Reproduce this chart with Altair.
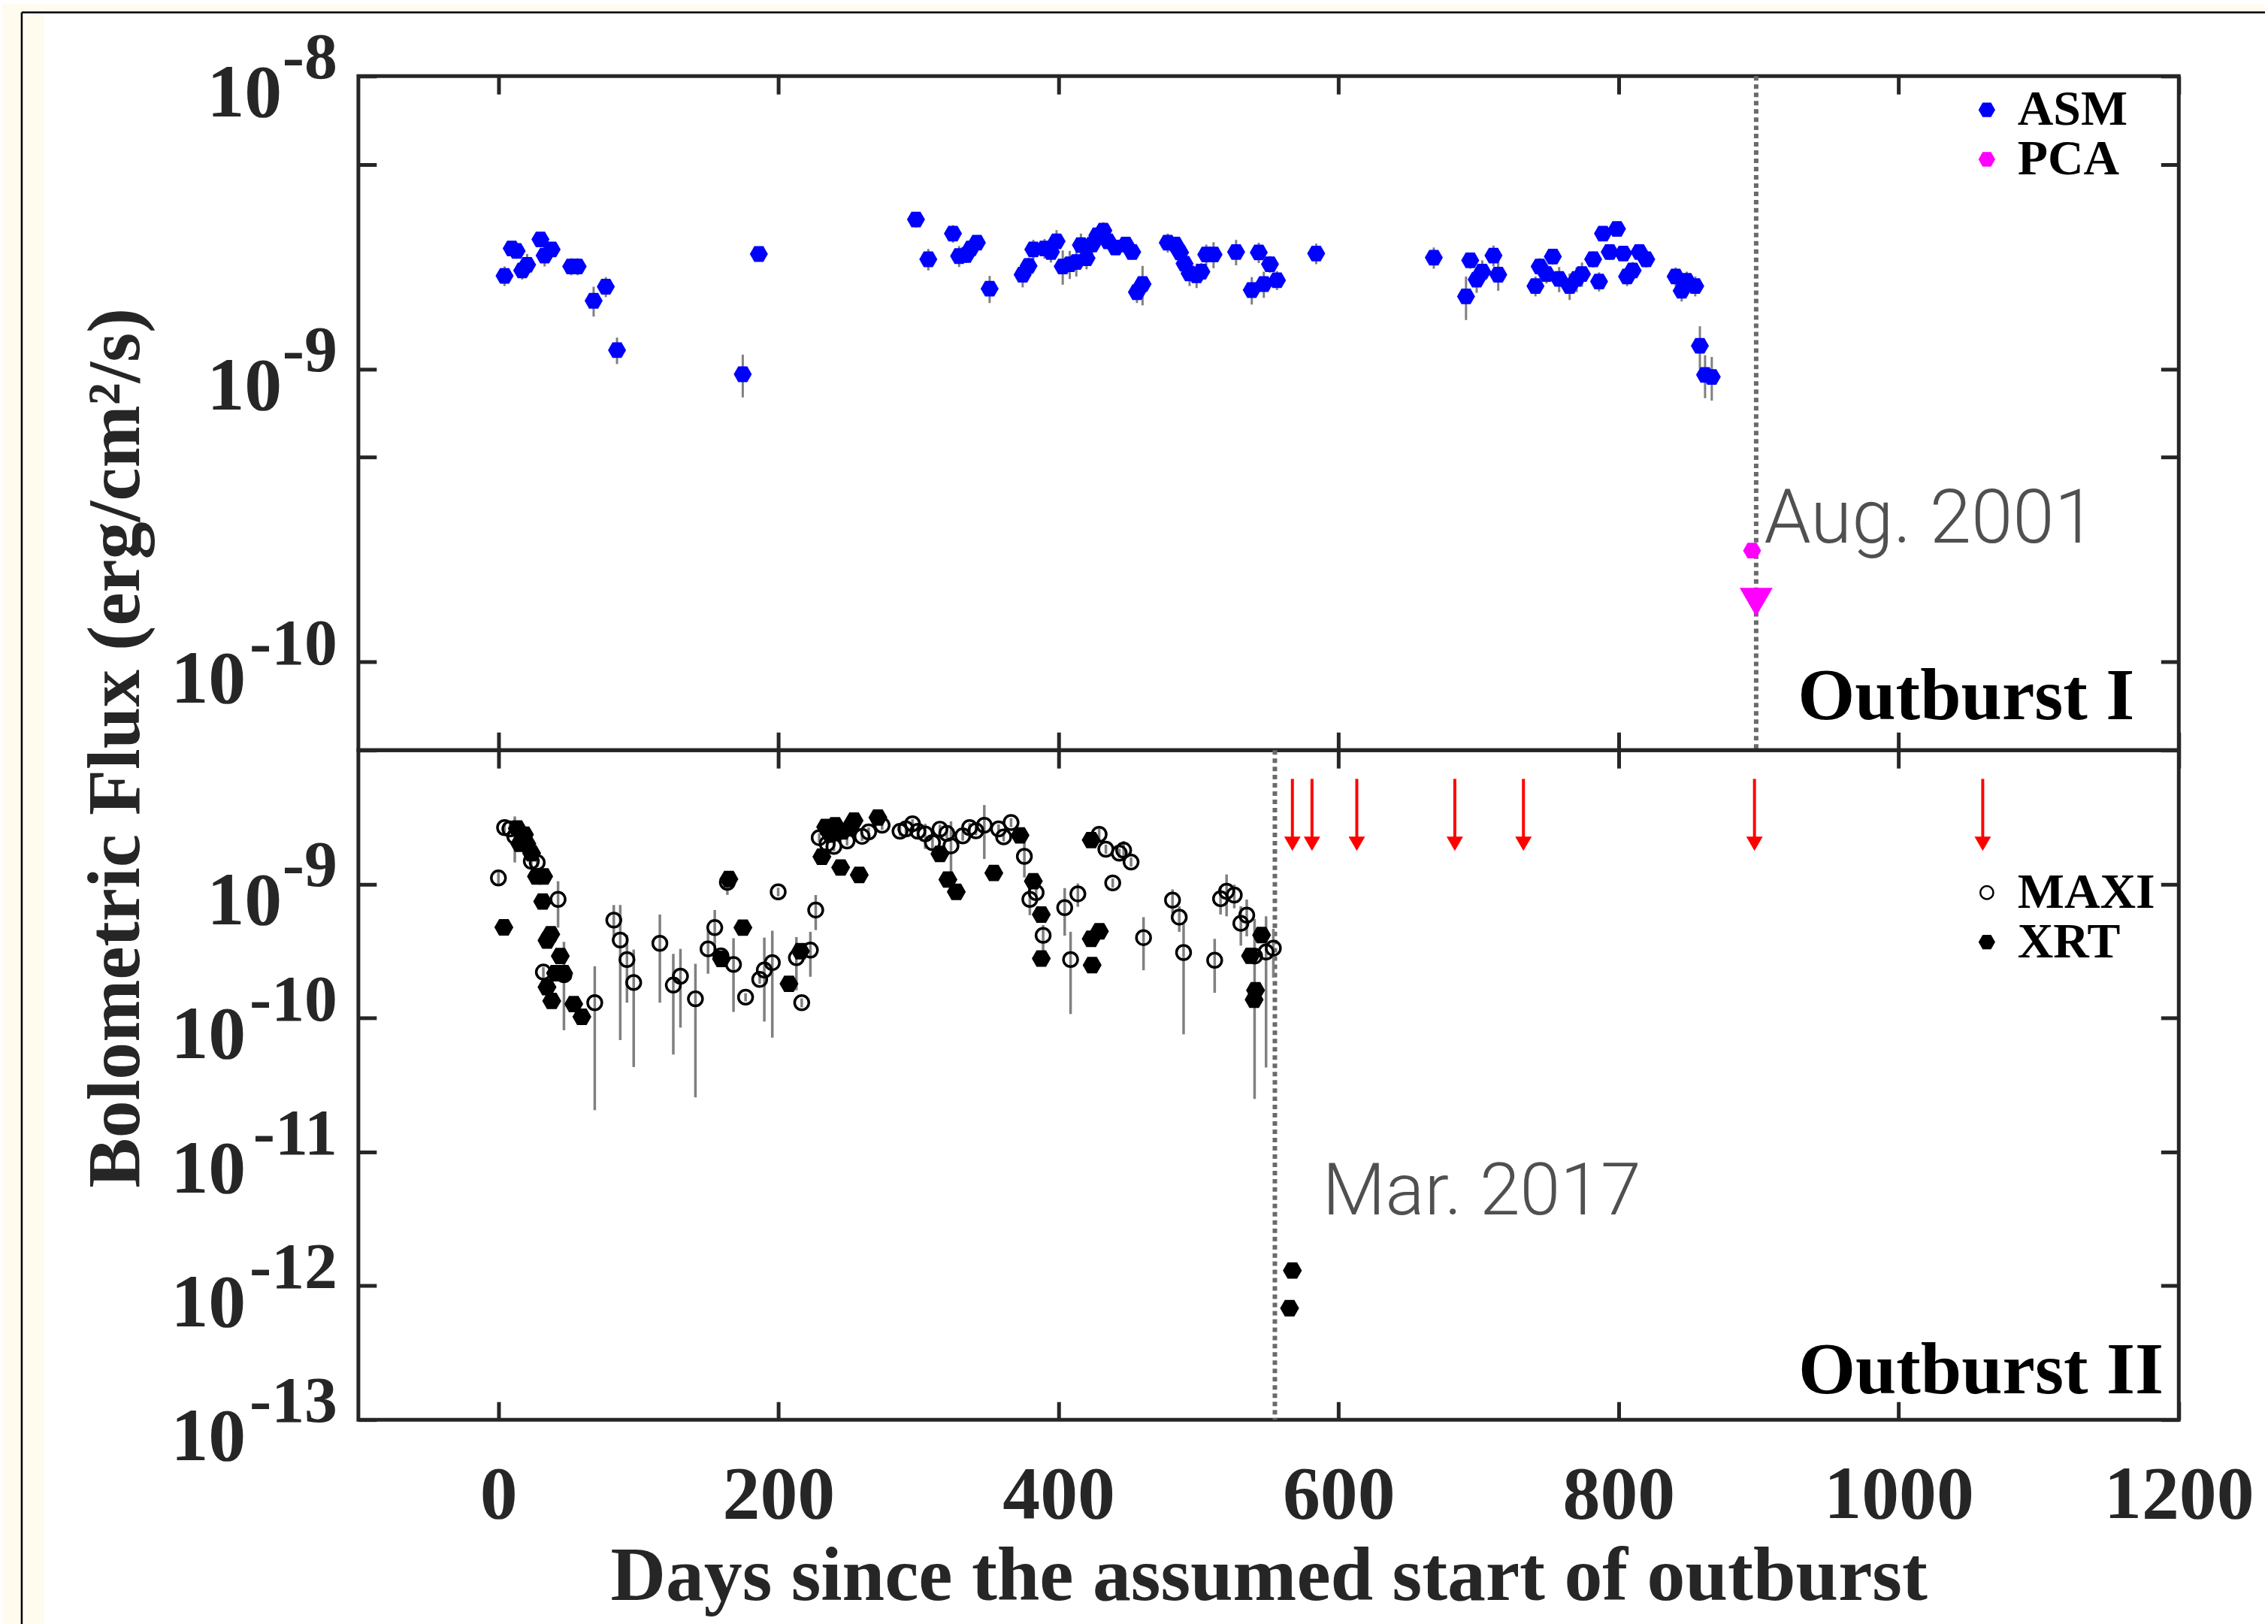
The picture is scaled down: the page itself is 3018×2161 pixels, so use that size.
import altair as alt
import pandas as pd

# ---------------- style constants ----------------
SERIF = "Liberation Serif"
LIGHT = "Roboto"
AX = "#262626"
CREAM = "#fffcef"
GREY_ERR = "#808080"
HEX = "M-1,0L-0.5,-0.866L0.5,-0.866L1,0L0.5,0.866L-0.5,0.866Z"
HEXB = "M-1.12,0L-0.56,-0.97L0.56,-0.97L1.12,0L0.56,0.97L-0.56,0.97Z"
W, H_TOP, H_BOT, TICK = 2428, 899, 893, 24

# ---------------- data ----------------
# Outburst I : RXTE/ASM (flux in 1e-9 erg/cm2/s)
asm_day = [4.4, 9.5, 13, 17, 20.5, 30, 33, 38, 52, 56.6, 68, 76.7, 84.7, 174.5, 186,
           298.2, 307, 324.6, 329, 334, 337.4, 341.7, 350.8, 374.4, 378.6, 382, 390, 394.6,
           398.6, 403, 408, 412.7, 416, 420, 424, 427.7, 432, 435.4, 440.7, 448, 452.6, 456,
           460, 478, 483.4, 486.8, 490, 493.6, 498.6, 502, 505.5, 510.7, 526.8, 538, 543,
           546.6, 551, 556, 584, 668, 691, 694, 698.6, 702.6, 710.6, 714, 740.6, 743.6, 748.5,
           753, 757.5, 765, 770, 773.8, 781.8, 786, 788.8, 793.6, 798.8, 803.3, 806, 810,
           814.8, 819.7, 840.7, 845, 848.6, 854.7, 858, 861.7, 866.5]
asm_flux = [2.08, 2.58, 2.53, 2.17, 2.27, 2.77, 2.44, 2.56, 2.24, 2.24,
            1.71, 1.91, 1.16, 0.96, 2.47, 3.24, 2.37, 2.90, 2.43, 2.45,
            2.58, 2.70, 1.88, 2.10, 2.25, 2.56, 2.58, 2.51, 2.73, 2.24,
            2.28, 2.32, 2.65, 2.39, 2.66, 2.86, 2.97, 2.73, 2.60, 2.66,
            2.51, 1.83, 1.95, 2.70, 2.66, 2.50, 2.29, 2.12, 2.09, 2.15,
            2.46, 2.46, 2.51, 1.86, 2.50, 1.95, 2.28, 2.01, 2.48, 2.40,
            1.77, 2.35, 2.02, 2.15, 2.44, 2.10, 1.92, 2.24, 2.11, 2.42,
            2.03, 1.92, 2.03, 2.11, 2.37, 1.99, 2.90, 2.51, 3.01, 2.48,
            2.07, 2.17, 2.51, 2.37, 2.07, 1.85, 2.00, 1.92, 1.20, 0.955, 0.94]
asm_err = [0.16, 0.15, 0.15, 0.15, 0.20, 0.15, 0.20, 0.15, 0.15, 0.15,
           0.20, 0.15, 0.12, 0.16, 0.12, 0.20, 0.20, 0.20, 0.20, 0.15,
           0.15, 0.15, 0.20, 0.20, 0.15, 0.20, 0.20, 0.20, 0.25, 0.30,
           0.25, 0.25, 0.25, 0.20, 0.20, 0.20, 0.20, 0.15, 0.15, 0.15,
           0.15, 0.15, 0.30, 0.20, 0.15, 0.15, 0.15, 0.20, 0.20, 0.15,
           0.20, 0.25, 0.25, 0.20, 0.20, 0.20, 0.15, 0.15, 0.20, 0.20,
           0.30, 0.15, 0.20, 0.20, 0.20, 0.25, 0.15, 0.15, 0.15, 0.15,
           0.20, 0.20, 0.20, 0.20, 0.15, 0.15, 0.15, 0.15, 0.15, 0.15,
           0.15, 0.15, 0.15, 0.15, 0.15, 0.15, 0.15, 0.15, 0.20, 0.16, 0.16]

pca_day = [895.3]
pca_flux = [2.40e-10]
pca_ul_day = [898.2]
pca_ul_flux = [1.60e-10]

# Outburst II : MAXI (flux, lower, upper in 1e-10 erg/cm2/s)
maxi_day = [0, 4.4, 8.2, 11.7, 23.5, 27.7, 32.1, 42.6, 46.8, 68.8,
            82.4, 87.0, 91.8, 96.6, 115.3, 124.9, 130.0, 140.7, 149.7, 154.5,
            158.9, 163.5, 167.9, 176.5, 186.6, 189.9, 195.6, 199.8, 212.8, 216.6,
            222.8, 226.6, 229.1, 234.8, 239.6, 249.0, 259.7, 264.4, 274.0, 286.8,
            291.0, 295.7, 299.5, 304.8, 310.0, 315.3, 320.2, 323.2, 331.6, 336.5,
            341.0, 347.0, 357.2, 360.8, 366.1, 375.6, 379.5, 384.0, 389.0, 404.4,
            408.6, 413.8, 429.0, 433.8, 438.7, 443.4, 446.5, 451.8, 460.7, 481.4,
            486.2, 489.3, 511.5, 515.7, 520.0, 525.5, 530.2, 534.4, 540.0, 548.2, 553.4]
maxi_flux = [11.1, 26.4, 25.8, 22.7, 14.8, 14.5, 2.2, 7.69, 2.1, 1.30,
             5.38, 3.82, 2.73, 1.84, 3.61, 1.76, 2.05, 1.39, 3.28, 4.73,
             2.91, 10.3, 2.51, 1.43, 1.94, 2.28, 2.59, 8.75, 2.82, 1.30,
             3.21, 6.40, 22.2, 20.0, 19.1, 21.0, 22.7, 24.5, 27.5, 24.8,
             25.8, 28.2, 24.8, 23.7, 20.4, 25.7, 23.9, 19.3, 22.9, 26.4,
             25.0, 27.5, 25.8, 22.5, 28.8, 16.1, 7.69, 8.63, 4.14, 6.67,
             2.73, 8.45, 23.5, 18.2, 10.2, 17.0, 17.9, 14.6, 3.98, 7.59,
             5.66, 3.08, 2.70, 7.77, 8.83, 8.28, 5.09, 5.86, 2.9, 3.11, 3.32]
maxi_lo = [10.0, 24.5, 24.0, 14.5, 13.5, 13.3, 2.0, 4.73, 0.81, 0.205,
           4.07, 0.684, 1.30, 0.43, 1.30, 0.533, 0.847, 0.255, 2.14, 3.15,
           2.7, 8.3, 1.11, 1.33, 1.8, 0.94, 0.714, 8.1, 1.61, 1.2,
           2.03, 4.53, 20.5, 18.5, 17.6, 19.4, 21.0, 22.6, 25.4, 22.9,
           23.8, 26.0, 22.0, 18.3, 18.0, 23.7, 22.0, 10.9, 21.1, 24.4,
           23.1, 15.4, 23.8, 20.8, 26.6, 11.2, 5.86, 7.9, 3.15, 4.12,
           1.07, 6.76, 21.0, 16.8, 9.4, 15.7, 15.0, 13.5, 2.27, 6.04,
           4.40, 0.755, 1.54, 5.92, 5.74, 6.59, 3.47, 4.07, 0.249, 0.427, 2.0]
maxi_hi = [12.2, 28.5, 27.8, 32.0, 16.2, 15.9, 2.4, 10.5, 3.7, 2.43,
           6.97, 6.97, 4.16, 3.24, 5.92, 3.01, 3.28, 2.54, 4.48, 6.40,
           3.1, 10.9, 3.94, 1.53, 2.1, 3.98, 4.48, 9.4, 4.02, 1.4,
           4.40, 8.28, 24.0, 21.6, 20.7, 22.7, 24.5, 26.5, 29.7, 26.8,
           27.9, 30.5, 27.5, 28.2, 23.0, 27.8, 25.9, 29.4, 24.8, 28.5,
           27.0, 38.9, 27.9, 24.3, 31.1, 20.4, 9.6, 9.4, 4.94, 9.33,
           4.40, 10.1, 26.0, 19.7, 11.0, 18.4, 21.0, 15.8, 5.66, 9.12,
           6.82, 5.05, 3.90, 9.6, 11.8, 9.9, 6.82, 7.66, 5.5, 5.74, 4.63]

# Outburst II : Swift/XRT (flux in 1e-10 erg/cm2/s)
xrt_day = [3.9, 13.5, 15.2, 18.6, 20.3, 23.7, 27.2, 32.3, 31.6, 37.4,
           34.7, 44.2, 46.6, 40.8, 34.7, 38.1, 53.8, 59.6, 159.3, 164.6,
           174.6, 207.5, 215.7, 231.0, 233.7, 237.1, 239.6, 240.5, 244.4, 245.7,
           250.7, 254.0, 257.7, 271.0, 315.3, 321.0, 327.0, 353.8, 372.5, 382.0,
           387.7, 387.7, 423.3, 423.3, 424.0, 429.2, 537.1, 539.7, 540.7, 545.0,
           565.0, 567.0]
xrt_flux = [4.75, 26.0, 20.0, 23.4, 20.0, 17.0, 11.4, 11.4, 7.41, 4.22,
            3.79, 2.90, 2.16, 2.16, 1.70, 1.34, 1.27, 1.02, 2.76, 10.9,
            4.73, 1.80, 3.15, 16.0, 26.7, 23.4, 26.4, 27.5, 13.3, 24.7,
            26.0, 29.8, 11.7, 31.4, 16.8, 10.8, 8.75, 12.1, 23.1, 10.5,
            5.92, 2.78, 21.3, 3.90, 2.48, 4.44, 2.91, 1.37, 1.61, 4.16,
            0.0068, 0.013]

# XRT upper limits (red arrows)
ul_day = [567, 581, 613, 683, 732, 897, 1060]
ul_from = [6.1e-9, 6.1e-9, 6.1e-9, 6.1e-9, 6.1e-9, 6.1e-9, 6.1e-9]
ul_to = [2.0e-9, 2.0e-9, 2.0e-9, 2.0e-9, 2.0e-9, 2.0e-9, 2.0e-9]

epoch_top = [898.2]   # Aug. 2001
epoch_bot = [554.5]   # Mar. 2017

x_ticks = [0, 200, 400, 600, 800, 1000, 1200]
y_ticks_top = [1e-10, 5e-10, 1e-9, 5e-9, 1e-8]
y_ticks_bot = [1e-13, 1e-12, 1e-11, 1e-10, 1e-9, 1e-8]
y_labels_top = [1e-8, 1e-9, 1e-10]
y_labels_bot = [1e-9, 1e-10, 1e-11, 1e-12, 1e-13]

ann_top = pd.DataFrame({"t": ["Aug. 2001"], "day": [903.9], "flux": [2.56e-10]})
lab_top = pd.DataFrame({"t": ["Outburst I"], "day": [1168.4], "flux": [6.37e-11]})
ann_bot = pd.DataFrame({"t": ["Mar. 2017"], "day": [588.5], "flux": [3.42e-12]})
lab_bot = pd.DataFrame({"t": ["Outburst II"], "day": [1189.2], "flux": [1.58e-13]})

# ---------------- tables ----------------
top_pts = pd.DataFrame({
    "day": asm_day + pca_day,
    "flux": [f * 1e-9 for f in asm_flux] + pca_flux,
    "inst": ["ASM"] * len(asm_day) + ["PCA"] * len(pca_day),
})
asm_eb = pd.DataFrame({
    "day": asm_day,
    "lo": [(f - e) * 1e-9 for f, e in zip(asm_flux, asm_err)],
    "hi": [(f + e) * 1e-9 for f, e in zip(asm_flux, asm_err)],
})
pca_ul = pd.DataFrame({"day": pca_ul_day, "flux": pca_ul_flux})
bot_pts = pd.DataFrame({
    "day": maxi_day + xrt_day,
    "flux": [f * 1e-10 for f in maxi_flux] + [f * 1e-10 for f in xrt_flux],
    "inst": ["MAXI"] * len(maxi_day) + ["XRT"] * len(xrt_day),
})
maxi_eb = pd.DataFrame({
    "day": maxi_day,
    "lo": [v * 1e-10 for v in maxi_lo],
    "hi": [v * 1e-10 for v in maxi_hi],
})
ul_df = pd.DataFrame({"day": ul_day, "y0": ul_from, "y1": ul_to})
one = pd.DataFrame({"k": [0]})

XS = alt.Scale(domain=[-100, 1200], nice=False, zero=False)
YT = alt.Scale(type="log", domain=[5e-11, 1e-8], nice=False)
YB = alt.Scale(type="log", domain=[1e-13, 1e-8], nice=False)


def tick_axis(orient, values):
    return alt.Axis(orient=orient, values=values, offset=-TICK, tickSize=TICK,
                    tickWidth=5, tickColor=AX, domain=False, grid=False,
                    labels=False, title=None)


def xq(field, axis=None):
    return alt.X(field, type="quantitative", scale=XS, axis=axis)


def tick_labels(vals, yscale):
    base = alt.Chart(pd.DataFrame({"v": vals})).transform_calculate(
        e="'-' + format(-log(datum.v)/LN10, '.0f')",
        n="length(format(-log(datum.v)/LN10, '.0f'))",
    )
    y = alt.Y("v:Q", scale=yscale, axis=None)
    ten1 = base.transform_filter("datum.n == 1").mark_text(
        text="10", align="right", baseline="alphabetic", dy=54, font=SERIF,
        fontWeight="bold", fontSize=100, color=AX).encode(x=alt.value(-102), y=y)
    ten2 = base.transform_filter("datum.n == 2").mark_text(
        text="10", align="right", baseline="alphabetic", dy=54, font=SERIF,
        fontWeight="bold", fontSize=100, color=AX).encode(x=alt.value(-150), y=y)
    ex = base.mark_text(align="right", baseline="alphabetic", dy=3, font=SERIF,
                        fontWeight="bold", fontSize=88, color=AX).encode(
        x=alt.value(-28), y=y, text="e:N")
    return [ten1, ten2, ex]


# ---------------- decoration (page frame) ----------------
deco = [
    alt.Chart(one).mark_rect(color=CREAM).encode(
        x=alt.value(-475), x2=alt.value(-419), y=alt.value(-96), y2=alt.value(2065)),
    alt.Chart(one).mark_rect(color=CREAM).encode(
        x=alt.value(-475), x2=alt.value(2543), y=alt.value(-96), y2=alt.value(-83)),
    alt.Chart(one).mark_rule(color="black", strokeWidth=2.5).encode(
        x=alt.value(-449), y=alt.value(-85), y2=alt.value(2065)),
    alt.Chart(one).mark_rule(color="black", strokeWidth=2.5).encode(
        x=alt.value(-449), x2=alt.value(2543), y=alt.value(-85)),
]

# ---------------- top panel ----------------
vline_top = alt.Chart(pd.DataFrame({"day": epoch_top})).mark_rule(
    color="#6a6a6a", strokeWidth=6, strokeDash=[6, 5]).encode(x=xq("day"))

asm_err_layer = alt.Chart(asm_eb).mark_rule(color=GREY_ERR, strokeWidth=3).encode(
    x=xq("day", tick_axis("bottom", x_ticks)),
    y=alt.Y("lo:Q", scale=YT, axis=tick_axis("left", y_ticks_top)),
    y2="hi:Q",
)

leg_top = alt.Legend(orient="none", legendX=2139, legendY=12, title=None,
                     labelFont=SERIF, labelFontWeight="bold", labelFontSize=66,
                     labelColor="black", labelLimit=400, symbolType=HEX,
                     symbolSize=500, symbolStrokeWidth=0, rowPadding=-2,
                     labelOffset=8, padding=0)

top_pts_layer = alt.Chart(top_pts).mark_point(
    shape=HEX, size=580, filled=True, opacity=1, strokeWidth=0).encode(
    x=xq("day", tick_axis("top", x_ticks)),
    y=alt.Y("flux:Q", scale=YT, axis=tick_axis("right", y_ticks_top)),
    color=alt.Color("inst:N", scale=alt.Scale(domain=["ASM", "PCA"],
                                              range=["#0000ff", "#ff00ff"]),
                    legend=leg_top),
)

pca_ul_layer = alt.Chart(pca_ul).mark_point(
    shape="triangle-down", size=1936, filled=True, opacity=1, color="#ff00ff").encode(
    x=xq("day"), y=alt.Y("flux:Q", scale=YT, axis=None))

txt_aug = alt.Chart(ann_top).mark_text(
    align="left", baseline="alphabetic", font=LIGHT, fontWeight=300, fontSize=100,
    color="#505050").encode(x=xq("day"), y=alt.Y("flux:Q", scale=YT, axis=None), text="t:N")
txt_o1 = alt.Chart(lab_top).mark_text(
    align="right", baseline="alphabetic", font=SERIF, fontWeight="bold", fontSize=98,
    color="black").encode(x=xq("day"), y=alt.Y("flux:Q", scale=YT, axis=None), text="t:N")

ytitle = alt.Chart(one).mark_text(
    text="Bolometric Flux (erg/cm²/s)", angle=270, align="center", baseline="alphabetic",
    font=SERIF, fontWeight="bold", fontSize=100, color=AX).encode(
    x=alt.value(-293), y=alt.value(896))

top = alt.layer(
    *deco, vline_top, asm_err_layer, top_pts_layer, pca_ul_layer, txt_aug, txt_o1,
    *tick_labels(y_labels_top, YT), ytitle,
).resolve_axis(x="independent", y="independent").properties(width=W, height=H_TOP)

# ---------------- bottom panel ----------------
vline_bot = alt.Chart(pd.DataFrame({"day": epoch_bot})).mark_rule(
    color="#6a6a6a", strokeWidth=6, strokeDash=[6, 5]).encode(x=xq("day"))

ul_rules = alt.Chart(ul_df).mark_rule(color="#ff0000", strokeWidth=4).encode(
    x=xq("day"), y=alt.Y("y0:Q", scale=YB, axis=None), y2="y1:Q")
ul_heads = alt.Chart(ul_df).mark_point(
    shape="triangle-down", size=484, filled=True, opacity=1, color="#ff0000").encode(
    x=xq("day"), y=alt.Y("y1:Q", scale=YB, axis=None))

x_axis_bottom = alt.Axis(
    orient="bottom", values=x_ticks, offset=-TICK, tickSize=TICK, tickWidth=5,
    tickColor=AX, domain=False, grid=False, labels=True, labelFont=SERIF,
    labelFontWeight="bold", labelFontSize=100, labelColor=AX, labelPadding=52,
    labelFlush=False, labelOverlap=False, labelLimit=600, format="d",
    title="Days since the assumed start of outburst", titleFont=SERIF,
    titleFontWeight="bold", titleFontSize=102, titleColor=AX, titlePadding=8,
    titleLimit=3000)

maxi_err_layer = alt.Chart(maxi_eb).mark_rule(color=GREY_ERR, strokeWidth=3.5).encode(
    x=xq("day", x_axis_bottom),
    y=alt.Y("lo:Q", scale=YB, axis=tick_axis("left", y_ticks_bot)),
    y2="hi:Q",
)

leg_bot = alt.Legend(orient="none", legendX=2139, legendY=157, title=None,
                     labelFont=SERIF, labelFontWeight="bold", labelFontSize=66,
                     labelColor="black", labelLimit=400, symbolSize=300,
                     symbolStrokeWidth=2.5, rowPadding=-3, labelOffset=8, padding=0)

INST_B = ["MAXI", "XRT"]
bot_pts_layer = alt.Chart(bot_pts).mark_point(
    size=360, opacity=1, strokeWidth=3.5).encode(
    x=xq("day", tick_axis("top", x_ticks)),
    y=alt.Y("flux:Q", scale=YB, axis=tick_axis("right", y_ticks_bot)),
    shape=alt.Shape("inst:N", scale=alt.Scale(domain=INST_B, range=["circle", HEXB]),
                    legend=leg_bot),
    fill=alt.Fill("inst:N", scale=alt.Scale(domain=INST_B, range=["transparent", "black"]),
                  legend=leg_bot),
    stroke=alt.Stroke("inst:N", scale=alt.Scale(domain=INST_B, range=["black", "black"]),
                      legend=leg_bot),
)

txt_mar = alt.Chart(ann_bot).mark_text(
    align="left", baseline="alphabetic", font=LIGHT, fontWeight=300, fontSize=97,
    color="#505050").encode(x=xq("day"), y=alt.Y("flux:Q", scale=YB, axis=None), text="t:N")
txt_o2 = alt.Chart(lab_bot).mark_text(
    align="right", baseline="alphabetic", font=SERIF, fontWeight="bold", fontSize=98,
    color="black").encode(x=xq("day"), y=alt.Y("flux:Q", scale=YB, axis=None), text="t:N")

bottom = alt.layer(
    vline_bot, ul_rules, ul_heads, maxi_err_layer, bot_pts_layer, txt_mar, txt_o2,
    *tick_labels(y_labels_bot, YB),
).resolve_axis(x="independent", y="independent").properties(width=W, height=H_BOT)

chart = alt.vconcat(top, bottom, spacing=0, bounds="flush").resolve_scale(
    x="independent", y="independent", color="independent",
    shape="independent", fill="independent", stroke="independent",
).properties(padding=0, background="white").configure_view(
    stroke=AX, strokeWidth=5)

chart.save("out.html", embed_options={"renderer": "svg", "actions": False})
